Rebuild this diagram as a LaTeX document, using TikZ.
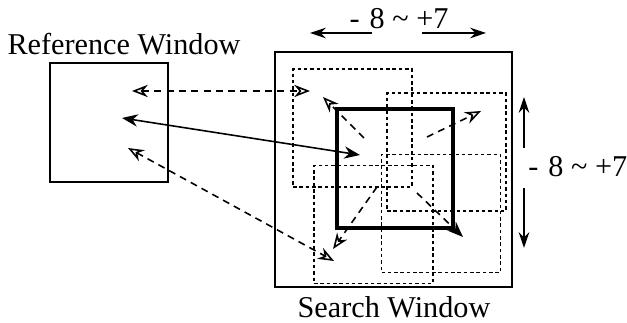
\documentclass[tikz,border=0pt]{standalone}
\usepackage{fontspec}
\setmainfont{Liberation Serif}
\usetikzlibrary{arrows.meta,positioning}
\tikzset{
  winbox/.style={draw, line width=1.6pt, inner sep=0pt, minimum width=2.36cm, minimum height=2.38cm},
  candbox/.style={draw, line width=0.9pt, dash pattern=on 2pt off 1.6pt, inner sep=0pt, minimum width=2.38cm, minimum height=2.36cm},
  dasharrow/.style={line width=0.9pt, dash pattern=on 4pt off 3pt},
  wintext/.style={font=\fontsize{17.2}{20}\selectfont, inner sep=0pt},
}

\begin{document}
\begin{tikzpicture}[>={Stealth[open,length=9pt,width=7pt]}, x=0.02cm, y=-0.02cm]
      \useasboundingbox (0,0) rectangle (627,323);

      % windows
      \node[winbox] (ref) at (109,122.5) {};
      \node[winbox, line width=1.4pt, minimum width=4.74cm, minimum height=4.70cm] (search) at (393.5,169.5) {};
      \node[candbox] (cand1) at (352.5,128) {};
      \node[candbox] (cand2) at (446.5,152) {};
      \node[candbox] (cand3) at (441,213.5) {};
      \node[candbox] (cand4) at (373.5,224.5) {};
      \node[winbox, line width=2pt, minimum width=2.32cm] (block) at (395,168.5) {};

      \node[wintext] (reflabel) at (124,44) {Reference Window};
      \node[wintext] (searchlabel) at (394,307) {Search Window};

      % reference <-> search
      \coordinate (r1) at (132,91);
      \coordinate (r2) at (122,118);
      \coordinate (r3) at (128,148);
      \coordinate (s1) at (310,91);
      \coordinate (s2) at (360,155);
      \coordinate (s3) at (334,261);
      \draw[<->, dasharrow] (r1)--(s1);
      \draw[line width=0.9pt, {Stealth[length=9pt,width=7pt]}-{Stealth[length=9pt,width=7pt]}] (r2)--(s2);
      \draw[<->, dasharrow] (r3)--(s3);

      % motion from block centre
      \coordinate (m1) at (364,138);
      \coordinate (m2) at (427,137);
      \coordinate (m3) at (377,187);
      \coordinate (m4) at (417,193);
      \coordinate (t1) at (323,97);
      \coordinate (t2) at (481,111);
      \coordinate (t3) at (333,249);
      \coordinate (t4) at (463,237);
      \draw[->, dasharrow] (m1)--(t1);
      \draw[->, dasharrow] (m2)--(t2);
      \draw[->, dasharrow] (m3)--(t3);
      \draw[dasharrow, -{Stealth[length=9pt,width=7pt]}] (m4)--(t4);

      % search range
      \node[wintext] (hrange) at (399,19) {-\,\,8 \textasciitilde\ +7};
      \coordinate (h1) at (372,33);
      \coordinate (h2) at (310,33);
      \coordinate (h3) at (422,33);
      \coordinate (h4) at (486,33);
      \draw[-{Stealth[length=9pt,width=6pt]}, line width=0.9pt] (h1)--(h2);
      \draw[-{Stealth[length=9pt,width=6pt]}, line width=0.9pt] (h3)--(h4);

      \node[wintext, anchor=west] (vrange) at (528,167) {-\,\,8 \textasciitilde\ +7};
      \coordinate (v1) at (524,148);
      \coordinate (v2) at (524,97);
      \coordinate (v3) at (524,188);
      \coordinate (v4) at (524,248);
      \draw[-{Stealth[length=9pt,width=6pt]}, line width=1pt] (v1)--(v2);
      \draw[-{Stealth[length=9pt,width=6pt]}, line width=1pt] (v3)--(v4);
\end{tikzpicture}
\end{document}
